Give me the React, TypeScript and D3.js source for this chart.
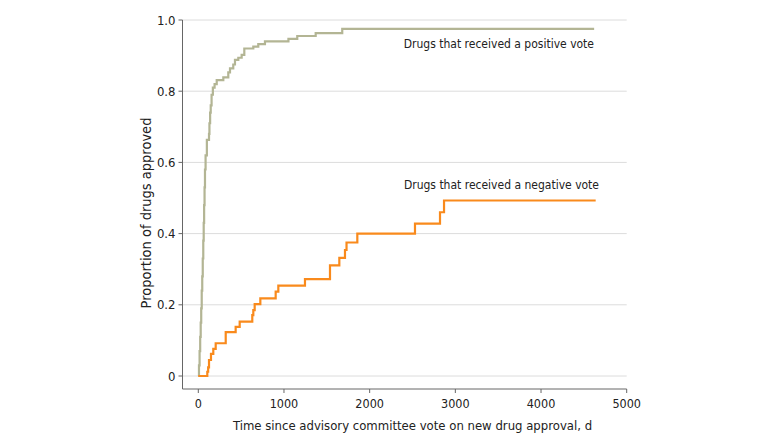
import React from 'react';
import * as d3 from 'd3';

// Kaplan-Meier style step points: [days, proportion approved]
const positiveDays = [0, 8, 15, 22, 28, 34, 40, 46, 52, 58, 63, 68, 73, 78, 85, 100, 125, 130, 138, 145, 155, 170, 190, 215, 292, 350, 370, 408, 428, 467, 506, 537, 642, 700, 778, 1052, 1155, 1370, 1680, 4620];
const positiveVals = [0, 0.03, 0.07, 0.11, 0.15, 0.19, 0.24, 0.28, 0.33, 0.38, 0.43, 0.48, 0.53, 0.58, 0.62, 0.663, 0.68, 0.71, 0.74, 0.76, 0.79, 0.81, 0.82, 0.831, 0.839, 0.853, 0.864, 0.875, 0.888, 0.894, 0.902, 0.92, 0.925, 0.932, 0.94, 0.947, 0.955, 0.963, 0.975, 0.975];

const negativeDays = [0, 105, 115, 125, 148, 175, 203, 320, 436, 483, 630, 642, 658, 724, 903, 934, 1245, 1537, 1646, 1712, 1730, 1856, 2529, 2821, 2868, 4638];
const negativeVals = [0, 0.012, 0.024, 0.045, 0.062, 0.076, 0.092, 0.123, 0.138, 0.153, 0.171, 0.185, 0.202, 0.218, 0.237, 0.254, 0.272, 0.311, 0.332, 0.354, 0.375, 0.40, 0.428, 0.46, 0.493, 0.493];

const xTicks = [0, 1000, 2000, 3000, 4000, 5000];
const yTicks = [0, 0.2, 0.4, 0.6, 0.8, 1.0];

const positiveLabel = 'Drugs that received a positive vote';
const negativeLabel = 'Drugs that received a negative vote';
const xTitle = 'Time since advisory committee vote on new drug approval, d';
const yTitle = 'Proportion of drugs approved';

const W = 780;
const H = 445;
const axisLeft = 182.5;
const axisBottom = 389;
const font = '"DejaVu Sans Condensed", "Liberation Sans Narrow", sans-serif';

export default function App() {
  const x = d3.scaleLinear().domain([0, 5000]).range([198.3, 626.7]);
  const y = d3.scaleLinear().domain([0, 1]).range([376, 20]);

  const line = d3
    .line<[number, number]>()
    .x((d) => x(d[0]))
    .y((d) => y(d[1]))
    .curve(d3.curveStepAfter);

  const pos = positiveDays.map((d, i) => [d, positiveVals[i]] as [number, number]);
  const neg = negativeDays.map((d, i) => [d, negativeVals[i]] as [number, number]);

  return (
    <svg width={W} height={H} style={{ position: 'absolute', left: 0, top: 0, background: '#fff' }} fontFamily={font}>
      {yTicks.map((t) => (
        <line key={'g' + t} x1={axisLeft} x2={x(5000)} y1={y(t)} y2={y(t)} stroke="#dcdcdc" strokeWidth={1} />
      ))}
      <line x1={axisLeft} x2={axisLeft} y1={y(1)} y2={axisBottom} stroke="#666" strokeWidth={1} />
      <line x1={axisLeft} x2={x(5000)} y1={axisBottom} y2={axisBottom} stroke="#666" strokeWidth={1} />
      {yTicks.map((t) => (
        <g key={'y' + t}>
          <line x1={axisLeft - 4} x2={axisLeft} y1={y(t)} y2={y(t)} stroke="#666" />
          <text x={axisLeft - 7} y={y(t)} dy="0.35em" textAnchor="end" fontSize={13} fill="#222">
            {t === 0 ? '0' : d3.format('.1f')(t)}
          </text>
        </g>
      ))}
      {xTicks.map((t) => (
        <g key={'x' + t}>
          <line x1={x(t)} x2={x(t)} y1={axisBottom} y2={axisBottom + 4} stroke="#666" />
          <text x={x(t)} y={408} textAnchor="middle" fontSize={12.5} fill="#222">
            {t}
          </text>
        </g>
      ))}
      <text x={(x(0) + x(5000)) / 2} y={430} textAnchor="middle" fontSize={13} fill="#222">
        {xTitle}
      </text>
      <text transform={`translate(151,${(y(0) + y(1)) / 2 + 15}) rotate(-90)`} textAnchor="middle" fontSize={14.5} fill="#222">
        {yTitle}
      </text>
      <path d={line(pos) ?? ''} fill="none" stroke="#b3b594" strokeWidth={2.2} />
      <path d={line(neg) ?? ''} fill="none" stroke="#f98a1c" strokeWidth={2.2} />
      <text x={594} y={48} textAnchor="end" fontSize={12} fill="#222">
        {positiveLabel}
      </text>
      <text x={599} y={189} textAnchor="end" fontSize={12} fill="#222">
        {negativeLabel}
      </text>
    </svg>
  );
}
